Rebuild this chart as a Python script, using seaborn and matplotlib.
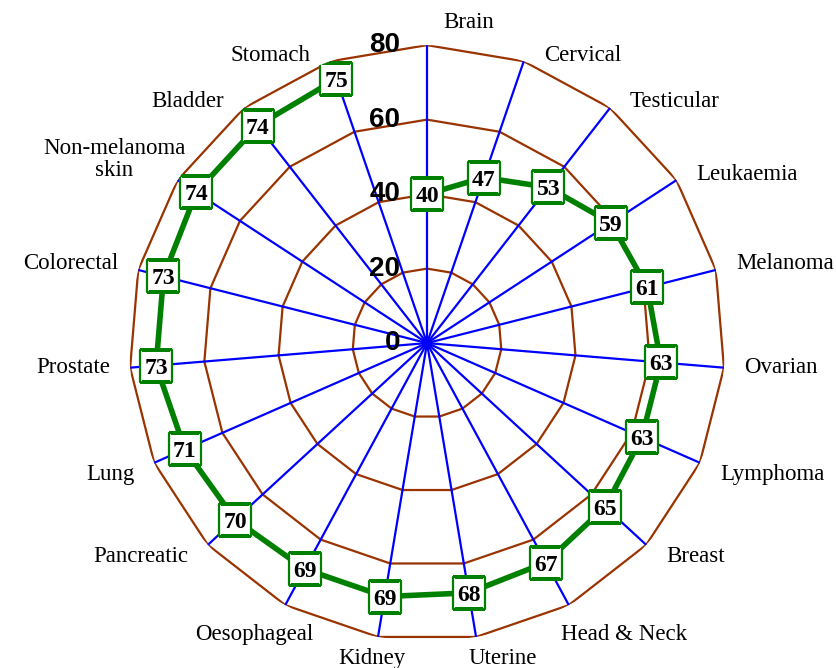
import numpy as np
import pandas as pd
import matplotlib
matplotlib.use("Agg")
import matplotlib.pyplot as plt
import matplotlib.transforms as mtransforms
import seaborn as sns

# data, clockwise from the top
categories = ["Brain", "Cervical", "Testicular", "Leukaemia", "Melanoma", "Ovarian",
              "Lymphoma", "Breast", "Head & Neck", "Uterine", "Kidney", "Oesophageal",
              "Pancreatic", "Lung", "Prostate", "Colorectal", "Non-melanoma\nskin",
              "Bladder", "Stomach"]
values = [40, 47, 53, 59, 61, 63, 63, 65, 67, 68, 69, 69, 70, 71, 73, 73, 74, 74, 75]
ring_ticks = [0, 20, 40, 60, 80]

GREEN = "#008000"
BROWN = "#993300"
BLUE = "#0000FF"
SERIF = ["Liberation Serif", "DejaVu Serif"]
SANS = ["Liberation Sans", "DejaVu Sans"]

sns.set_style("white")
plt.rcParams["text.color"] = "black"

n = len(categories)
theta = np.arange(n) * 2 * np.pi / n
df = pd.DataFrame({"theta": theta, "value": values, "category": categories})

fig = plt.figure(figsize=(8.36, 6.68), dpi=100)
ax = fig.add_axes([0.1543, 0.0404, 0.713, 0.892], projection="polar")
ax.set_theta_zero_location("N")
ax.set_theta_direction(-1)
ax.set_ylim(0, max(ring_ticks))
ax.grid(False)
ax.spines["polar"].set_visible(False)
ax.set_xticks([])
ax.set_yticks([])

# polygon gridlines
closed = np.append(theta, theta[0])
for r in ring_ticks[1:]:
    ax.plot(closed, np.full(len(closed), r), color=BROWN, lw=1.6, zorder=1)

# spokes
for t in theta:
    ax.plot([t, t], [0, ring_ticks[-1]], color=BLUE, lw=1.6, zorder=2)

# the series (open line, not closed back to Brain)
sns.lineplot(data=df, x="theta", y="value", sort=False, estimator=None,
             color=GREEN, lw=4.0, ax=ax, zorder=3)
# square label boxes
sns.scatterplot(data=df, x="theta", y="value", marker="s", s=500, color="white",
                edgecolor=GREEN, linewidth=1.6, ax=ax, zorder=4, legend=False)
ax.set_xlabel("")
ax.set_ylabel("")

for t, v in zip(theta, values):
    ax.text(t, v, str(v), ha="center", va="center_baseline", family=SERIF,
            fontweight="bold", fontsize=17, zorder=5)

# radial tick labels along the top spoke
tick_tr = mtransforms.offset_copy(ax.transData, fig=fig, x=-27, y=0, units="dots")
for r in ring_ticks:
    ax.text(0, r, str(r), transform=tick_tr, ha="right", va="center",
            family=SANS, fontweight="bold", fontsize=20, zorder=6)

# category labels
for t, lab in zip(theta, categories):
    s, c = np.sin(t), np.cos(t)
    if c > 0.99:
        ha, va, dx, dy = "left", "bottom", 16, 12
    elif c <= -0.85:
        va = "top"
        dy = -11 if c < -0.95 else -19
        if s > 0:
            ha, dx = "left", -8
        else:
            ha, dx = "right", 28
    elif "\n" in lab:
        ha, va, dx, dy = "right", "center", 8, 21
    else:
        if c > 0:
            dy = 6
        elif c > -0.2:
            dy = 0
        else:
            dy = -12
        if s > 0:
            ha, va, dx = "left", "center", 20
        else:
            ha, va, dx = "right", "center", -20
    tr = mtransforms.offset_copy(ax.transData, fig=fig, x=dx, y=dy, units="dots")
    ax.text(t, ring_ticks[-1], lab, transform=tr, ha=ha, va=va, family=SERIF,
            fontsize=16.5, multialignment="center", linespacing=1.05, clip_on=False)

fig.savefig("out.png", dpi=100)
